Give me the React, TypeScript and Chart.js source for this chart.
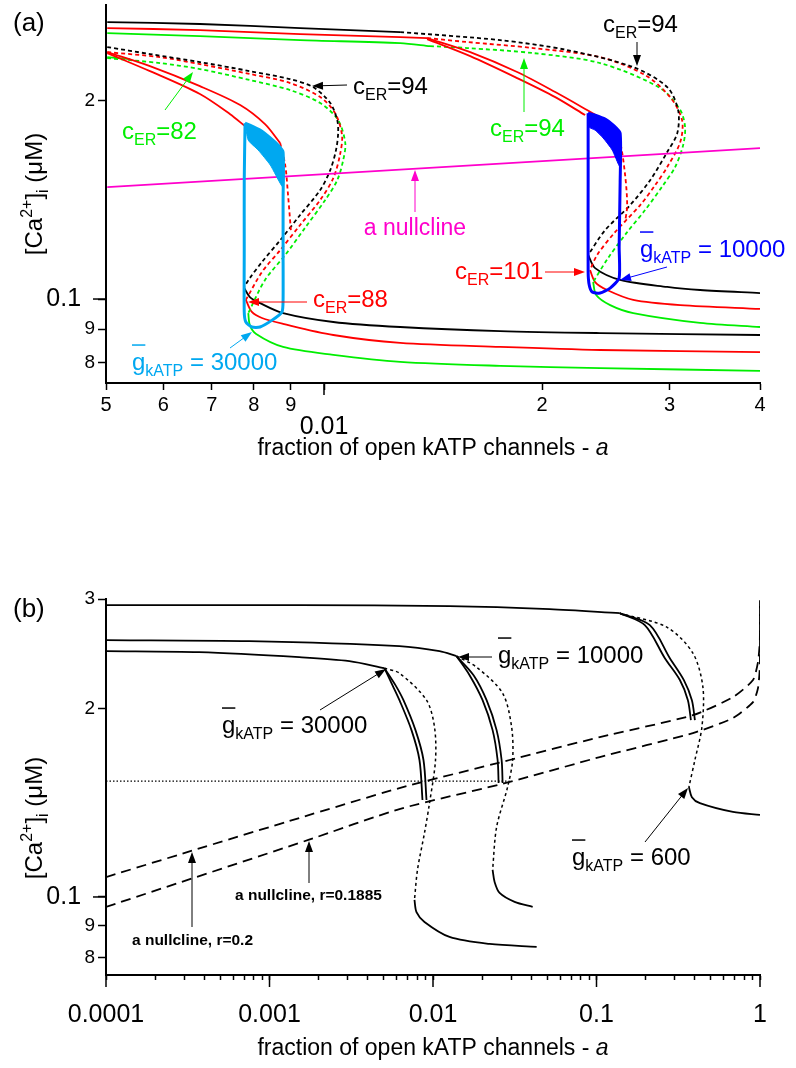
import React, { useEffect, useRef } from 'react';
import { Chart, registerables } from 'chart.js';

Chart.register(...registerables);

const FONT = "'Liberation Sans', Arial, Helvetica, sans-serif";
Chart.defaults.font.family = FONT;

type P = [number, number];

// ================= Panel (a) =================
const xTicksA = [0.005, 0.006, 0.007, 0.008, 0.009, 0.01, 0.02, 0.03, 0.04];
const xTickLabelsA = ['5', '6', '7', '8', '9', '0.01', '2', '3', '4'];
const yTicksA = [0.08, 0.09, 0.1, 0.2];
const yTickLabelsA = ['8', '9', '0.1', '2'];

const aNullclineA: P[] = [[0.00502, 0.1478], [0.04, 0.1693]];

// gKATP = 30000 (left family)
const blackMidL: P[] = [[0.00502, 0.2409], [0.00575, 0.2351], [0.00674, 0.2286], [0.0079, 0.2215], [0.00898, 0.2154], [0.00966, 0.2095], [0.0102, 0.1982], [0.01043, 0.1867], [0.01046, 0.1784], [0.01039, 0.1682], [0.0102, 0.1568], [0.00988, 0.1463], [0.00927, 0.1341], [0.0087, 0.1228], [0.00821, 0.1138], [0.0079, 0.1076], [0.00776, 0.1043]];
const redMidL: P[] = [[0.00502, 0.2367], [0.00594, 0.2326], [0.00674, 0.227], [0.0079, 0.2193], [0.00898, 0.2125], [0.00988, 0.2023], [0.01036, 0.1913], [0.01059, 0.1771], [0.01052, 0.1653], [0.0103, 0.1525], [0.00988, 0.1413], [0.00927, 0.1295], [0.0087, 0.1186], [0.00821, 0.1099], [0.0078, 0.0997]];
const greenMidL: P[] = [[0.00502, 0.2318], [0.00594, 0.2278], [0.00674, 0.2231], [0.0079, 0.2147], [0.00898, 0.2073], [0.00988, 0.1982], [0.01046, 0.1867], [0.0107, 0.1723], [0.01063, 0.1624], [0.01043, 0.1514], [0.01004, 0.1413], [0.00941, 0.1281], [0.00884, 0.1166], [0.00829, 0.1069], [0.00786, 0.0952]];
const blackLowL: P[] = [[0.00776, 0.1039], [0.0079, 0.1007], [0.00816, 0.0986], [0.00878, 0.0952], [0.0103, 0.0923], [0.01274, 0.0907], [0.01751, 0.0894], [0.02406, 0.0888], [0.04, 0.0882]];
const redLowL: P[] = [[0.0078, 0.0997], [0.00795, 0.0956], [0.00821, 0.0936], [0.00878, 0.0917], [0.0103, 0.0882], [0.01274, 0.0858], [0.01751, 0.0846], [0.02406, 0.0837], [0.04, 0.0831]];
const greenLowL: P[] = [[0.00786, 0.0952], [0.0079, 0.0913], [0.00806, 0.0885], [0.00878, 0.0846], [0.0103, 0.0823], [0.01274, 0.0803], [0.01751, 0.0792], [0.02406, 0.0786], [0.04, 0.0778]];
const redMaxL: P[] = [[0.00502, 0.2367], [0.00575, 0.2254], [0.00674, 0.2102], [0.00766, 0.1968], [0.00829, 0.1841], [0.0087, 0.1723]];
const redMinL: P[] = [[0.00502, 0.2359], [0.00575, 0.2215], [0.00674, 0.2045], [0.00742, 0.1906], [0.00778, 0.1828]];
const redDotL: P[] = [[0.0087, 0.1723], [0.00884, 0.1596], [0.00892, 0.1437], [0.009, 0.1272]];
const greenUpL: P[] = [[0.00502, 0.2326], [0.0054, 0.231]];

// gKATP = 10000 (right family)
const blackUpR: P[] = [[0.00502, 0.2629], [0.00674, 0.2611], [0.00927, 0.2574], [0.01274, 0.2538]];
const redUpR: P[] = [[0.00502, 0.2574], [0.00674, 0.2556], [0.00927, 0.2521], [0.01274, 0.2494], [0.01388, 0.2486]];
const greenUpR: P[] = [[0.00502, 0.2529], [0.00674, 0.2503], [0.00927, 0.2468], [0.01274, 0.2443], [0.01401, 0.2417]];
const blackMidR: P[] = [[0.01274, 0.2538], [0.01751, 0.2468], [0.02167, 0.2384], [0.02673, 0.2246], [0.02978, 0.2095], [0.03083, 0.1934], [0.03075, 0.1784], [0.02978, 0.167], [0.02821, 0.1514], [0.02647, 0.1388], [0.02445, 0.1272], [0.02316, 0.1166]];
const redMidR: P[] = [[0.01388, 0.2486], [0.01576, 0.2452], [0.01944, 0.2401], [0.02406, 0.2326], [0.02776, 0.2185], [0.03006, 0.2023], [0.03122, 0.1867], [0.03104, 0.1729], [0.02978, 0.1585], [0.02866, 0.1488], [0.02733, 0.1388], [0.02523, 0.1263], [0.02383, 0.1166], [0.0233, 0.1106]];
const greenMidR: P[] = [[0.01401, 0.2417], [0.01576, 0.2401], [0.01944, 0.2359], [0.02406, 0.2278], [0.02912, 0.2088], [0.03104, 0.1934], [0.03152, 0.1822], [0.03133, 0.1711], [0.03054, 0.1585], [0.0294, 0.1488], [0.02776, 0.1364], [0.02622, 0.1263], [0.02468, 0.1154], [0.02353, 0.1061]];
const blackLowR: P[] = [[0.02316, 0.1166], [0.02368, 0.1114], [0.02564, 0.1069], [0.02978, 0.1043], [0.03306, 0.1032], [0.04, 0.1021]];
const redLowR: P[] = [[0.0233, 0.1106], [0.02368, 0.1061], [0.0246, 0.1032], [0.02673, 0.0997], [0.03104, 0.0979], [0.04, 0.0966]];
const greenLowR: P[] = [[0.02353, 0.1061], [0.02376, 0.1014], [0.02484, 0.0979], [0.02673, 0.0952], [0.03306, 0.092], [0.04, 0.0907]];
const redMaxR: P[] = [[0.01388, 0.2486], [0.01592, 0.2367], [0.01848, 0.2208], [0.02086, 0.2059], [0.02308, 0.1934], [0.02508, 0.1835]];
const redMinR: P[] = [[0.01388, 0.2477], [0.01592, 0.2334], [0.01848, 0.2162], [0.02086, 0.2023], [0.02294, 0.19]];
const redDotR: P[] = [[0.02508, 0.1835], [0.02564, 0.1729], [0.02605, 0.1541], [0.02622, 0.1388], [0.02605, 0.1308]];

// trajectories
const cyanLoop: P[] = [[0.00778, 0.1847], [0.0079, 0.1835], [0.00816, 0.1803], [0.00843, 0.1754], [0.00864, 0.1711], [0.00878, 0.167], [0.00878, 0.1413], [0.00878, 0.1186], [0.00878, 0.0997], [0.00875, 0.0956], [0.00848, 0.0929], [0.00816, 0.0907], [0.00795, 0.0907], [0.0078, 0.0923], [0.00776, 0.0956], [0.00776, 0.1186], [0.00776, 0.1514], [0.00778, 0.1847]];
const cyanBand: P[] = [[0.00778, 0.1847], [0.0079, 0.1835], [0.00816, 0.1803], [0.00843, 0.1754], [0.00864, 0.1711], [0.00878, 0.167], [0.00878, 0.1478], [0.00843, 0.1596], [0.00811, 0.1682], [0.00786, 0.1741], [0.00778, 0.1847]];
const blueLoop: P[] = [[0.02316, 0.1913], [0.02368, 0.19], [0.02445, 0.1874], [0.02508, 0.1835], [0.02564, 0.1784], [0.02564, 0.15], [0.02556, 0.12], [0.02556, 0.1076], [0.02484, 0.1039], [0.02406, 0.1021], [0.02346, 0.1025], [0.02324, 0.105], [0.02316, 0.11], [0.02316, 0.15], [0.02316, 0.1913]];
const blueBand: P[] = [[0.02316, 0.1913], [0.02368, 0.19], [0.02445, 0.1874], [0.02508, 0.1835], [0.02564, 0.1784], [0.02564, 0.1585], [0.025, 0.1682], [0.02429, 0.1754], [0.02368, 0.1803], [0.02324, 0.1822], [0.02316, 0.1913]];

// ================= Panel (b) =================
const xTicksB = [0.0001, 0.0002, 0.0003, 0.0004, 0.0005, 0.0006, 0.0007, 0.0008, 0.0009,
  0.001, 0.002, 0.003, 0.004, 0.005, 0.006, 0.007, 0.008, 0.009,
  0.01, 0.02, 0.03, 0.04, 0.05, 0.06, 0.07, 0.08, 0.09,
  0.1, 0.2, 0.3, 0.4, 0.5, 0.6, 0.7, 0.8, 0.9, 1];
const xMajorB = [0.0001, 0.001, 0.01, 0.1, 1];
const xMajorLabelsB = ['0.0001', '0.001', '0.01', '0.1', '1'];
const yTicksB = [0.08, 0.09, 0.1, 0.2, 0.3];
const yTickLabelsB = ['8', '9', '0.1', '2', '3'];

const g600Up: P[] = [[0.0001, 0.2932], [0.001521, 0.2932], [0.01262, 0.2922], [0.0517, 0.289], [0.1388, 0.2847]];
const g600Max: P[] = [[0.1388, 0.2847], [0.1975, 0.2724], [0.2619, 0.2412], [0.3236, 0.2225], [0.3622, 0.2066], [0.3779, 0.192]];
const g600Min: P[] = [[0.1388, 0.2847], [0.212, 0.2724], [0.281, 0.2412], [0.3423, 0.2225], [0.3832, 0.2066], [0.3998, 0.192]];
const g600Mid: P[] = [[0.1388, 0.2847], [0.2693, 0.2704], [0.3887, 0.2457], [0.4475, 0.2168], [0.4413, 0.1871], [0.3998, 0.1657], [0.3674, 0.15]];
const g600Low: P[] = [[0.3674, 0.15], [0.3832, 0.1445], [0.429, 0.1413], [0.6833, 0.1368], [1.0, 0.1353]];

const g10kUp: P[] = [[0.0001, 0.2578], [0.0007516, 0.2568], [0.006234, 0.2521], [0.01096, 0.2475], [0.01393, 0.243]];
const g10kMax: P[] = [[0.01393, 0.243], [0.01674, 0.2265], [0.0201, 0.2066], [0.02315, 0.185], [0.02484, 0.1657], [0.02519, 0.1522]];
const g10kMin: P[] = [[0.01393, 0.243], [0.01771, 0.2265], [0.02127, 0.2066], [0.02449, 0.185], [0.02628, 0.1657], [0.02665, 0.1522]];
const g10kMid: P[] = [[0.01393, 0.243], [0.01847, 0.2333], [0.02665, 0.212], [0.03026, 0.1871], [0.03069, 0.1657], [0.0286, 0.15], [0.02449, 0.1294], [0.02315, 0.1105]];
const g10kLow: P[] = [[0.02315, 0.1105], [0.02381, 0.1057], [0.02555, 0.1015], [0.03157, 0.0982], [0.0407, 0.0964]];

const g30kUp: P[] = [[0.0001, 0.2475], [0.0003712, 0.2466], [0.001521, 0.2421], [0.00308, 0.2386], [0.005046, 0.2325]];
const g30kMax: P[] = [[0.005046, 0.2325], [0.005648, 0.2184], [0.006234, 0.2066], [0.007386, 0.185], [0.008265, 0.1657], [0.008624, 0.143]];
const g30kMin: P[] = [[0.005046, 0.2325], [0.005892, 0.2184], [0.006597, 0.2066], [0.007814, 0.185], [0.008746, 0.1657], [0.009125, 0.143]];
const g30kMid: P[] = [[0.005046, 0.2325], [0.006234, 0.2282], [0.009125, 0.2066], [0.010214, 0.1871], [0.01036, 0.1657], [0.009519, 0.1413], [0.00887, 0.1266], [0.008036, 0.1105], [0.007703, 0.0989]];
const g30kLow: P[] = [[0.007703, 0.0989], [0.007925, 0.0946], [0.00887, 0.0912], [0.01262, 0.0863], [0.02218, 0.0841], [0.04305, 0.0832]];

const nullR200: P[] = [[0.0001, 0.1076], [0.0003317, 0.1185], [0.001521, 0.1338], [0.006234, 0.1494], [0.02941, 0.1657], [0.1047, 0.1803], [0.3887, 0.1955], [0.6833, 0.2089], [0.9061, 0.2225], [0.9721, 0.2377], [0.998, 0.2578], [1.0, 0.2987]];
const nullR1885: P[] = [[0.0001, 0.0964], [0.001728, 0.1234], [0.006234, 0.1383], [0.02941, 0.1528], [0.1047, 0.1675], [0.3887, 0.183], [0.6833, 0.1934], [0.9061, 0.2051], [0.9721, 0.216], [0.999, 0.2351], [1.0, 0.2987]];
const caLevel: P[] = [[0.0001, 0.1533], [0.0294, 0.1533]];

// ================= styling =================
const BLACK = '#000000';
const RED = '#ff0000';
const GREEN = '#00ee00';
const PINK = '#ff00cc';
const CYAN = '#00a8f0';
const BLUE = '#0000ff';

const toXY = (arr: P[]) => arr.map(([x, y]) => ({ x, y }));
const ds = (data: P[], color: string, extra: any = {}) => ({
  data: toXY(data), borderColor: color, backgroundColor: color, borderWidth: 1.8,
  pointRadius: 0, showLine: true, fill: false, tension: 0.3, ...extra,
});
const DASH_A = { borderDash: [4, 3] };
const DOT_B = { borderDash: [3, 3], borderWidth: 1.5 };
const NULL_B = { borderDash: [10, 6], borderWidth: 1.8, tension: 0.2 };

type Seg = { t: string; size: number; dy?: number; italic?: boolean; bold?: boolean; over?: boolean };
const fstr = (s: Seg) => `${s.italic ? 'italic ' : ''}${s.bold ? 'bold ' : ''}${s.size}px ${FONT}`;

function rich(ctx: CanvasRenderingContext2D, x: number, y: number, segs: Seg[], color: string, align = 'left') {
  ctx.save();
  ctx.fillStyle = color; ctx.strokeStyle = color; ctx.textBaseline = 'alphabetic'; ctx.textAlign = 'left';
  const widths = segs.map((s) => { ctx.font = fstr(s); return ctx.measureText(s.t).width; });
  const total = widths.reduce((a, b) => a + b, 0);
  let cx = align === 'center' ? x - total / 2 : align === 'right' ? x - total : x;
  segs.forEach((s, i) => {
    ctx.font = fstr(s);
    ctx.fillText(s.t, cx, y + (s.dy || 0));
    if (s.over) {
      ctx.lineWidth = 1.5; ctx.beginPath();
      ctx.moveTo(cx, y - s.size * 1.04); ctx.lineTo(cx + widths[i], y - s.size * 1.04); ctx.stroke();
    }
    cx += widths[i];
  });
  ctx.restore();
}

function arrow(ctx: CanvasRenderingContext2D, x1: number, y1: number, x2: number, y2: number, color: string, lw = 1, head = 11, hw = 4) {
  const ang = Math.atan2(y2 - y1, x2 - x1);
  const c = Math.cos(ang), s = Math.sin(ang);
  ctx.save(); ctx.strokeStyle = color; ctx.fillStyle = color; ctx.lineWidth = lw;
  ctx.beginPath(); ctx.moveTo(x1, y1); ctx.lineTo(x2 - c * head * 0.8, y2 - s * head * 0.8); ctx.stroke();
  ctx.beginPath(); ctx.moveTo(x2, y2);
  ctx.lineTo(x2 - head * c + hw * s, y2 - head * s - hw * c);
  ctx.lineTo(x2 - head * c - hw * s, y2 - head * s + hw * c);
  ctx.closePath(); ctx.fill(); ctx.restore();
}

function seg(ctx: CanvasRenderingContext2D, x1: number, y1: number, x2: number, y2: number) {
  ctx.beginPath(); ctx.moveTo(x1, y1); ctx.lineTo(x2, y2); ctx.stroke();
}

const cER = (v: string): Seg[] => [{ t: 'c', size: 24 }, { t: 'ER', size: 16, dy: 6 }, { t: '=' + v, size: 24 }];
const gK = (v: string): Seg[] => [{ t: 'g', size: 24, over: true }, { t: 'kATP', size: 16, dy: 6 }, { t: ' = ' + v, size: 24 }];
const yTitle: Seg[] = [{ t: '[Ca', size: 24 }, { t: '2+', size: 16, dy: -10 }, { t: ']', size: 24 }, { t: 'i', size: 16, dy: 6 }, { t: ' (\u03bcM)', size: 24 }];
const xTitle: Seg[] = [{ t: 'fraction of open kATP channels - ', size: 23 }, { t: 'a', size: 23, italic: true }];

function drawYTitle(ctx: CanvasRenderingContext2D, cx: number, cy: number) {
  ctx.save(); ctx.translate(cx, cy); ctx.rotate(-Math.PI / 2);
  rich(ctx, 0, 8, yTitle, BLACK, 'center');
  ctx.restore();
}

function drawA(ctx: CanvasRenderingContext2D, chart: any) {
  const xs = chart.scales.x, ys = chart.scales.y, ca = chart.chartArea;
  ctx.strokeStyle = BLACK; ctx.lineWidth = 1.5;
  const px = xs.getPixelForValue(0.01);
  seg(ctx, px, ca.bottom, px, ca.bottom + 12);
  const py = ys.getPixelForValue(0.1);
  seg(ctx, ca.left, py, ca.left - 13, py);
  rich(ctx, 13, 31, [{ t: '(a)', size: 26 }], BLACK);
  drawYTitle(ctx, 34, 194);
  rich(ctx, 433, 455, xTitle, BLACK, 'center');

  rich(ctx, 353, 94, cER('94'), BLACK); arrow(ctx, 347, 85, 312, 86, BLACK);
  rich(ctx, 603, 32, cER('94'), BLACK); arrow(ctx, 637, 42, 637, 66, BLACK);
  rich(ctx, 122, 139, cER('82'), GREEN); arrow(ctx, 165, 110, 193, 72, GREEN);
  rich(ctx, 490, 136, cER('94'), GREEN); arrow(ctx, 524, 112, 524, 58, GREEN);
  rich(ctx, 415, 235, [{ t: 'a nullcline', size: 23 }], PINK, 'center'); arrow(ctx, 415, 212, 415, 170, PINK);
  rich(ctx, 313, 307, cER('88'), RED); arrow(ctx, 307, 302, 248, 302, RED);
  rich(ctx, 455, 279, cER('101'), RED); arrow(ctx, 545, 272, 585, 272, RED);
  rich(ctx, 640, 257, gK('10000'), BLUE); arrow(ctx, 667, 267, 620, 280, BLUE);
  rich(ctx, 132, 370, gK('30000'), CYAN); arrow(ctx, 230, 348, 252, 332, CYAN);
}

function drawB(ctx: CanvasRenderingContext2D, chart: any) {
  const xs = chart.scales.x, ys = chart.scales.y, ca = chart.chartArea;
  ctx.strokeStyle = BLACK; ctx.lineWidth = 1.5;
  xMajorB.forEach((v) => { const px = xs.getPixelForValue(v); seg(ctx, px, ca.bottom, px, ca.bottom + 12); });
  const py = ys.getPixelForValue(0.1);
  seg(ctx, ca.left, py, ca.left - 13, py);
  const o = 470;
  rich(ctx, 13, 617 - o, [{ t: '(b)', size: 26 }], BLACK);
  drawYTitle(ctx, 34, 818 - o);
  rich(ctx, 433, 1055 - o, xTitle, BLACK, 'center');

  rich(ctx, 222, 733 - o, gK('30000'), BLACK); arrow(ctx, 320, 710 - o, 386, 669 - o, BLACK);
  rich(ctx, 498, 663 - o, gK('10000'), BLACK); arrow(ctx, 492, 657 - o, 458, 657 - o, BLACK);
  rich(ctx, 572, 865 - o, gK('600'), BLACK); arrow(ctx, 645, 842 - o, 688, 788 - o, BLACK);
  rich(ctx, 132, 945 - o, [{ t: 'a nullcline, r=0.2', size: 15.5, bold: true }], BLACK); arrow(ctx, 192, 927 - o, 192, 852 - o, BLACK);
  rich(ctx, 235, 900 - o, [{ t: 'a nullcline, r=0.1885', size: 15.5, bold: true }], BLACK); arrow(ctx, 309, 883 - o, 309, 841 - o, BLACK);
}

const axisCommon = {
  border: { display: true, color: BLACK, width: 2 },
};

function configA(): any {
  return {
    type: 'scatter',
    data: {
      datasets: [
        ds(cyanLoop, CYAN, { borderWidth: 3, tension: 0.2 }),
        ds(cyanBand, CYAN, { borderWidth: 1, fill: 'shape', tension: 0.2 }),
        ds(blueLoop, BLUE, { borderWidth: 3, tension: 0.2 }),
        ds(blueBand, BLUE, { borderWidth: 1, fill: 'shape', tension: 0.2 }),
        ds(aNullclineA, PINK, { tension: 0 }),
        ds(redMaxL, RED), ds(redMinL, RED), ds(redDotL, RED, DASH_A),
        ds(redMaxR, RED), ds(redMinR, RED), ds(redDotR, RED, DASH_A),
        ds(blackMidL, BLACK, DASH_A), ds(redMidL, RED, DASH_A), ds(greenMidL, GREEN, DASH_A),
        ds(blackLowL, BLACK), ds(redLowL, RED), ds(greenLowL, GREEN), ds(greenUpL, GREEN),
        ds(blackUpR, BLACK), ds(redUpR, RED), ds(greenUpR, GREEN),
        ds(blackMidR, BLACK, DASH_A), ds(redMidR, RED, DASH_A), ds(greenMidR, GREEN, DASH_A),
        ds(blackLowR, BLACK), ds(redLowR, RED), ds(greenLowR, GREEN),
      ],
    },
    options: {
      animation: false, responsive: false, maintainAspectRatio: false, events: [],
      layout: { padding: { left: 0, right: 36, top: 5, bottom: 0 }, autoPadding: false },
      plugins: { legend: { display: false }, tooltip: { enabled: false } },
      scales: {
        x: {
          type: 'logarithmic', position: 'bottom', min: 0.005, max: 0.04, ...axisCommon,
          afterBuildTicks: (s: any) => { s.ticks = xTicksA.map((v) => ({ value: v })); },
          afterFit: (s: any) => { s.height = 87; s.paddingLeft = 0; s.paddingRight = 0; },
          grid: { drawOnChartArea: false, drawTicks: true, tickLength: 7, tickColor: BLACK, tickWidth: 1.5 },
          ticks: {
            autoSkip: false, maxRotation: 0, minRotation: 0, padding: 3, color: BLACK,
            callback: (_v: any, i: number) => (xTickLabelsA[i] === '0.01' ? ['', '0.01'] : xTickLabelsA[i]),
            font: (c: any) => (c.tick && c.tick.value === 0.01
              ? { family: FONT, size: 25, lineHeight: 0.9 }
              : { family: FONT, size: 20, lineHeight: 1.2 }),
          },
        },
        y: {
          type: 'logarithmic', position: 'left', min: 0.0746, max: 0.279, ...axisCommon,
          afterBuildTicks: (s: any) => { s.ticks = yTicksA.map((v) => ({ value: v })); },
          afterFit: (s: any) => { s.width = 106; s.paddingTop = 0; s.paddingBottom = 0; },
          grid: { drawOnChartArea: false, drawTicks: true, tickLength: 8, tickColor: BLACK, tickWidth: 1.5 },
          ticks: {
            autoSkip: false, padding: 3, color: BLACK,
            callback: (_v: any, i: number) => (yTickLabelsA[i] === '0.1' ? '0.1  ' : yTickLabelsA[i]),
            font: (c: any) => (c.tick && c.tick.value === 0.1 ? { family: FONT, size: 25 } : { family: FONT, size: 19 }),
          },
        },
      },
    },
    plugins: [{ id: 'annotA', afterDraw: (chart: any) => { const ctx = chart.ctx; ctx.save(); drawA(ctx, chart); ctx.restore(); } }],
  };
}

function configB(): any {
  return {
    type: 'scatter',
    data: {
      datasets: [
        ds(g600Up, BLACK), ds(g600Max, BLACK), ds(g600Min, BLACK), ds(g600Mid, BLACK, DOT_B), ds(g600Low, BLACK),
        ds(g10kUp, BLACK), ds(g10kMax, BLACK), ds(g10kMin, BLACK), ds(g10kMid, BLACK, DOT_B), ds(g10kLow, BLACK),
        ds(g30kUp, BLACK), ds(g30kMax, BLACK), ds(g30kMin, BLACK), ds(g30kMid, BLACK, DOT_B), ds(g30kLow, BLACK),
        ds(nullR200, BLACK, NULL_B), ds(nullR1885, BLACK, NULL_B),
        ds(caLevel, BLACK, { borderDash: [1.5, 2], borderWidth: 1.2, tension: 0 }),
      ],
    },
    options: {
      animation: false, responsive: false, maintainAspectRatio: false, events: [],
      layout: { padding: { left: 0, right: 36, top: 129, bottom: 0 }, autoPadding: false },
      plugins: { legend: { display: false }, tooltip: { enabled: false } },
      scales: {
        x: {
          type: 'logarithmic', position: 'bottom', min: 0.0001, max: 1, ...axisCommon,
          afterBuildTicks: (s: any) => { s.ticks = xTicksB.map((v) => ({ value: v })); },
          afterFit: (s: any) => { s.height = 93; s.paddingLeft = 0; s.paddingRight = 0; },
          grid: { drawOnChartArea: false, drawTicks: true, tickLength: 5, tickColor: BLACK, tickWidth: 1.5 },
          ticks: {
            autoSkip: false, maxRotation: 0, minRotation: 0, padding: 20, color: BLACK,
            font: { family: FONT, size: 25, lineHeight: 1.2 },
            callback: (v: any) => {
              const k = xMajorB.findIndex((m) => Math.abs(m - v) / m < 1e-6);
              return k >= 0 ? xMajorLabelsB[k] : '';
            },
          },
        },
        y: {
          type: 'logarithmic', position: 'left', min: 0.075, max: 0.3, ...axisCommon,
          afterBuildTicks: (s: any) => { s.ticks = yTicksB.map((v) => ({ value: v })); },
          afterFit: (s: any) => { s.width = 106; s.paddingTop = 0; s.paddingBottom = 0; },
          grid: { drawOnChartArea: false, drawTicks: true, tickLength: 8, tickColor: BLACK, tickWidth: 1.5 },
          ticks: {
            autoSkip: false, padding: 3, color: BLACK,
            callback: (_v: any, i: number) => (yTickLabelsB[i] === '0.1' ? '0.1  ' : yTickLabelsB[i]),
            font: (c: any) => (c.tick && c.tick.value === 0.1 ? { family: FONT, size: 25 } : { family: FONT, size: 19 }),
          },
        },
      },
    },
    plugins: [{ id: 'annotB', afterDraw: (chart: any) => { const ctx = chart.ctx; ctx.save(); drawB(ctx, chart); ctx.restore(); } }],
  };
}

function Panel({ make, top, height }: { make: () => any; top: number; height: number }) {
  const ref = useRef<HTMLCanvasElement>(null);
  useEffect(() => {
    const chart = new Chart(ref.current as HTMLCanvasElement, make());
    return () => chart.destroy();
  }, []);
  return (
    <canvas ref={ref} width={796} height={height}
      style={{ position: 'absolute', left: 0, top, width: 796, height, display: 'block' }} />
  );
}

export default function App() {
  return (
    <div style={{ position: 'absolute', left: 0, top: 0, width: 796, height: 1068, background: '#fff' }}>
      <Panel make={configA} top={0} height={470} />
      <Panel make={configB} top={470} height={598} />
    </div>
  );
}
